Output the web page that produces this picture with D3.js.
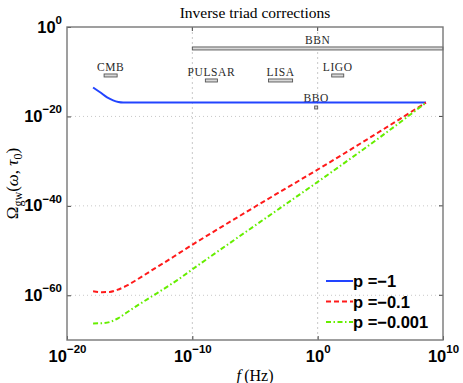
<!DOCTYPE html>
<html>
<head>
<meta charset="utf-8">
<script src="https://cdn.jsdelivr.net/npm/d3@7"></script>
<style>
  body { margin: 0; background: #fff; }
  svg { display: block; }
</style>
</head>
<body>
<svg id="chart" width="463" height="383"></svg>
<script>
// exponents: log10(f) and log10(Omega)
const blueF = [-17.92, -17.36, -16.8, -16.32, -15.9, -15.52, -14, -10, -5, 0, 5, 8.64];
const blueO = [-13.52, -14.6, -15.75, -16.4, -16.75, -16.87, -16.9, -16.9, -16.9, -16.9, -16.9, -16.9];

const redF = [-17.92, -17.2, -16.6, -16.0, -15.2, -14.56, -13.76, -13.12, -12.32, -10.96, -5, 0.88, 5, 8.64];
const redO = [-59.1, -59.3, -59.25, -58.8, -57.8, -56.75, -55.35, -54.2, -52.85, -50.4, -40.2, -30.4, -23.3, -16.9];

const greenF = [-17.92, -17.2, -16.5, -15.9, -15.2, -14.4, -13.6, -12.8, -11.2, -9.6, -5, 0.88, 5, 8.64];
const greenO = [-66.3, -66.25, -65.9, -65.1, -63.8, -62.3, -60.9, -59.5, -56.6, -53.4, -44.4, -32.9, -24.6, -16.95];

const legendLabels = ["p =\u22121", "p =\u22120.1", "p =\u22120.001"];

// detector bands: name, log10 f range, log10 Omega level
const bandNames = ["BBN", "CMB", "PULSAR", "LISA", "LIGO", "BBO"];
const bandFrom = [-10, -17.04, -8.96, -3.92, 1.12, -0.24];
const bandTo = [10, -16.0, -8.0, -2.0, 2.08, 0];
const bandLevel = [-4.8, -10.84, -11.96, -11.96, -10.84, -18.0];

const xTickExp = [-20, -10, 0, 10];
const yTickExp = [0, -20, -40, -60];

const MARGIN = { LEFT: 67, RIGHT: 20, TOP: 27, BOTTOM: 43 };
const width = 463, height = 383;

const svg = d3.select("#chart");

const xScale = d3.scaleLog()
  .domain([1e-20, 1e10])
  .range([MARGIN.LEFT, width - MARGIN.RIGHT]);
const yScale = d3.scaleLog()
  .domain([1e-70, 1])
  .range([height - MARGIN.BOTTOM, MARGIN.TOP]);

const pw = (e) => Math.pow(10, e);

// grid
const grid = svg.append("g");
grid.selectAll(".gx").data(xTickExp.slice(1, -1)).enter().append("line")
  .attr("x1", (d) => xScale(pw(d))).attr("x2", (d) => xScale(pw(d)))
  .attr("y1", MARGIN.TOP).attr("y2", height - MARGIN.BOTTOM)
  .attr("stroke", "#c8c8c8").attr("stroke-dasharray", "2,3").attr("stroke-width", 1);
grid.selectAll(".gy").data(yTickExp.slice(1)).enter().append("line")
  .attr("y1", (d) => yScale(pw(d))).attr("y2", (d) => yScale(pw(d)))
  .attr("x1", MARGIN.LEFT).attr("x2", width - MARGIN.RIGHT)
  .attr("stroke", "#c8c8c8").attr("stroke-dasharray", "1,3").attr("stroke-width", 1);

// axes
function supLabels(sel) {
  sel.selectAll(".tick text").each(function (d) {
    const t = d3.select(this);
    const e = Math.round(Math.log10(d));
    t.text(null)
      .attr("fill", "#000")
      .style("font-family", "'Liberation Sans', Arial, sans-serif")
      .style("font-weight", "bold");
    t.append("tspan").attr("font-size", 16.5).text("10");
    t.append("tspan").attr("font-size", 11.5).attr("dy", "-0.75em")
      .text(e < 0 ? "\u2212" + (-e) : e);
  });
}

const xAxis = d3.axisBottom(xScale).tickValues(xTickExp.map(pw))
  .tickSizeInner(-4).tickSizeOuter(0).tickPadding(15);
svg.append("g")
  .attr("transform", "translate(0," + (height - MARGIN.BOTTOM) + ")")
  .call(xAxis)
  .call(supLabels)
  .call((g) => g.select(".domain").remove())
  .call((g) => g.selectAll(".tick line").attr("stroke", "#444"));

const yAxis = d3.axisLeft(yScale).tickValues(yTickExp.map(pw))
  .tickSizeInner(-4).tickSizeOuter(0).tickPadding(5);
svg.append("g")
  .attr("transform", "translate(" + MARGIN.LEFT + ",0)")
  .call(yAxis)
  .call(supLabels)
  .call((g) => g.select(".domain").remove())
  .call((g) => g.selectAll(".tick line").attr("stroke", "#444"))
  .call((g) => g.selectAll(".tick text").attr("dy", "0.5em"));

// right and top ticks
svg.selectAll(".rt").data(yTickExp.slice(1)).enter().append("line")
  .attr("x1", width - MARGIN.RIGHT).attr("x2", width - MARGIN.RIGHT - 4)
  .attr("y1", (d) => yScale(pw(d))).attr("y2", (d) => yScale(pw(d)))
  .attr("stroke", "#444");
svg.selectAll(".tt").data(xTickExp.slice(1, -1)).enter().append("line")
  .attr("y1", MARGIN.TOP).attr("y2", MARGIN.TOP + 4)
  .attr("x1", (d) => xScale(pw(d))).attr("x2", (d) => xScale(pw(d)))
  .attr("stroke", "#444");

// detector bands
const bands = svg.append("g");
bandNames.forEach((n, i) => {
  const x0 = xScale(pw(bandFrom[i]));
  const x1 = xScale(pw(bandTo[i]));
  const y = yScale(pw(bandLevel[i]));
  bands.append("rect")
    .attr("x", x0).attr("y", y - 1.5)
    .attr("width", Math.max(x1 - x0, 3)).attr("height", 3)
    .attr("fill", "#d8d8d8").attr("stroke", "#555").attr("stroke-width", 0.9);
  bands.append("text")
    .attr("x", (x0 + Math.min(x1, width - MARGIN.RIGHT)) / 2)
    .attr("y", y - (n === "BBO" ? 5 : 4))
    .attr("text-anchor", "middle")
    .attr("fill", "#2a2a2a")
    .style("font-family", "'Liberation Serif', 'DejaVu Serif', serif")
    .style("font-size", "11.5px")
    .style("letter-spacing", "0.6px")
    .text(n);
});

// curves
const line = d3.line()
  .x((d) => xScale(pw(d[0])))
  .y((d) => yScale(pw(d[1])))
  .curve(d3.curveMonotoneX);

const series = [
  { f: blueF, o: blueO, color: "#2244ff", dash: null },
  { f: redF, o: redO, color: "#ff1a1a", dash: "5,3" },
  { f: greenF, o: greenO, color: "#66ee00", dash: "5,2.5,1.5,2.5" },
];

series.forEach((s) => {
  svg.append("path")
    .datum(s.f.map((v, i) => [v, s.o[i]]))
    .attr("d", line)
    .attr("fill", "none")
    .attr("stroke", s.color)
    .attr("stroke-width", 2)
    .attr("stroke-dasharray", s.dash);
});

// frame
svg.append("rect")
  .attr("x", MARGIN.LEFT).attr("y", MARGIN.TOP)
  .attr("width", width - MARGIN.LEFT - MARGIN.RIGHT)
  .attr("height", height - MARGIN.TOP - MARGIN.BOTTOM)
  .attr("fill", "none").attr("stroke", "#777").attr("stroke-width", 1.4);

// legend
const legend = svg.append("g").attr("transform", "translate(326,281)");
series.forEach((s, i) => {
  const g = legend.append("g").attr("transform", "translate(0," + i * 20.5 + ")");
  g.append("line").attr("x1", 0).attr("x2", 27).attr("y1", 0).attr("y2", 0)
    .attr("stroke", s.color).attr("stroke-width", 2).attr("stroke-dasharray", s.dash);
  g.append("text").attr("x", 27).attr("y", 6)
    .style("font-family", "'Liberation Sans', Arial, sans-serif")
    .style("font-weight", "bold").style("font-size", "16.5px")
    .text(legendLabels[i]);
});

// title and axis labels
svg.append("text")
  .attr("x", (MARGIN.LEFT + width - MARGIN.RIGHT) / 2).attr("y", 18)
  .attr("text-anchor", "middle")
  .style("font-family", "'Liberation Serif', 'DejaVu Serif', serif")
  .style("font-size", "15.5px")
  .text("Inverse triad corrections");

const xl = svg.append("text")
  .attr("x", (MARGIN.LEFT + width - MARGIN.RIGHT) / 2).attr("y", 381)
  .attr("text-anchor", "middle")
  .style("font-family", "'Liberation Serif', 'DejaVu Serif', serif")
  .style("font-size", "16px");
xl.append("tspan").style("font-style", "italic").text("f");
xl.append("tspan").text("\u2009(Hz)");

const yl = svg.append("text")
  .attr("transform", "translate(18," + (MARGIN.TOP + height - MARGIN.BOTTOM) / 2 + ") rotate(-90)")
  .attr("text-anchor", "middle")
  .style("font-family", "'Liberation Serif', 'DejaVu Serif', serif")
  .style("font-size", "17px");
yl.append("tspan").text("\u03A9");
yl.append("tspan").attr("font-size", 12).attr("dy", 4).text("gw");
yl.append("tspan").attr("dy", -4).text("(");
yl.append("tspan").style("font-style", "italic").text("\u03C9");
yl.append("tspan").text(", ");
yl.append("tspan").style("font-style", "italic").text("\u03C4");
yl.append("tspan").attr("font-size", 12).attr("dy", 4).text("0");
yl.append("tspan").attr("dy", -4).text(")");
</script>
</body>
</html>
